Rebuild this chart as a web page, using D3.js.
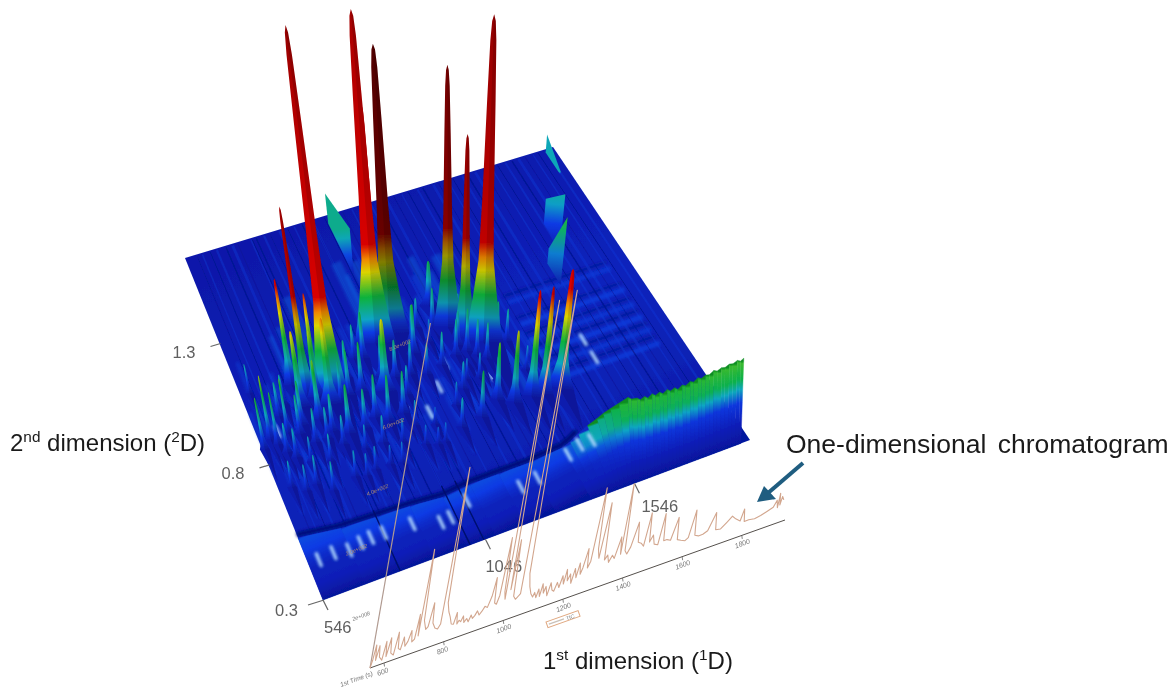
<!DOCTYPE html>
<html><head><meta charset="utf-8">
<style>html,body{margin:0;padding:0;background:#fff}svg{display:block}text{font-family:"Liberation Sans",Arial,sans-serif}</style>
<script src="https://cdn.jsdelivr.net/npm/d3@7/dist/d3.min.js"></script></head><body>
<svg id="c" width="1170" height="688"></svg>
<script>
// ---------- chart data (1st-dim time s, 2nd-dim time s, intensity) ----------
const peakT1=[828,1040,1054,1100,1287,1321,1370,755,720,790,1422,1461,1516,
 1141,980,1209,1266,1306,1329,1353,1411,1440,1318,1362,1247,1174,1105,
 646,584,554,601,682,883,928,852,1000,1207,782,722,816,
 590,630,710,793,828,862,912,949,1044,1080,668,
 832,887,932,967,1022,785,719,641,1265,1154,1287,1330,1375,1235,1100,1190,
 578,640,670,700,760,760,620,680,740,800,860,920,980,1040,1060,1010,1050,1100,1150,900,950,1190,1240,1330,1400,1350,1300,1260,1450,1500];
const peakT2=[.968,1.11,1.12,1.13,1.08,1.02,.98,1.0,1.06,1.01,.72,.715,.714,
 1.025,1.07,.946,.965,.967,.938,.913,.967,.953,.75,.72,.71,.70,.67,
 .89,.886,.86,.86,.87,.95,.95,.94,.92,1.05,.985,.966,.94,
 .70,.67,.64,.66,.65,.66,.66,.65,.685,.67,.68,
 .81,.81,.835,.805,.815,.84,.82,.79,1.187,1.07,1.0,1.1,1.05,.83,.74,.78,
 1.08,.96,1.0,.9,.9,.82,.82,.76,.74,.78,.74,.74,.72,.76,.88,.98,.96,.95,.93,1.02,1.08,1.12,1.1,1.12,1.1,.82,.85,.86,.82,.85];
const peakH=[372,335,235,290,263,204,328,190,107,98,107,108,120,
 50,47,34,37,43,37,37,40,33,58,73,47,30,20,
 55,65,52,53,40,47,50,40,73,23,67,77,87,
 27,27,30,27,23,24,20,22,20,18,30,
 50,40,44,47,43,38,35,30,45,38,35,26,30,28,18,24,
 30,35,30,45,60,32,30,26,28,30,25,28,24,26,30,42,38,35,32,38,35,30,40,32,30,24,26,22,25,24];
const peakW=[18,21,10,20,15,13,20,9,8,8,10,10,14,
 7,7,6,6,6,6,6,7,6,8,9,7,6,5,
 5,5,5,5,6,7,7,6,12,5,10,10,12,
 5,5,5,5,5,5,5,5,5,5,5,
 8,7,7,7,7,7,6,6,10,6,7,6,6,6,5,5,
 4,6,6,7,8,6,6,5,5,6,5,6,5,5,6,7,7,6,6,7,6,6,7,6,6,5,5,5,5,5];
const peakShade=[0,0,0,2.1,1.3,.8,.4,.5,0,0,0,.3,0,
 0,0,0,0,0,0,0,0,0,0,.3,.3,0,0,
 0,0,0,0,0,0,0,0,0,0,0,0,0,
 0,0,0,0,0,0,0,0,0,0,0,
 0,0,0,0,0,0,0,0,0,0,0,0,0,0,0,0,
 0,0,0,0,0,0,0,0,0,0,0,0,0,0,0,0,0,0,0,0,0,0,0,0,0,0,0,0,0,0];
// walls running along the 2nd dimension
const ridgeT1=[1078,1765,1700,1915];
const ridgeFrom=[1.78,1.39,1.2,1.81];
const ridgeTo=[1.44,1.24,1.1,1.65];
const ridgeHFrom=[30,25,15,18];
const ridgeHTo=[47,55,68,3];
const ridgeTone=[34,30,50,27];
// column-bleed ridge along the 1st dimension
const wallT1=[546,684,804,912,1018,1113,1210,1313,1429,1450,1472,1494,1515,1526,1538,1551,1564,1576,1588,1600,1612,1624,1636,1648,1660,1672,1684,1696,1708,1720,1732,1744,1756,1768,1780,1792,1804,1816,1828,1840,1852,1864,1876,1888,1900,1912,1920];
const wallT2=[.53,.51,.505,.5,.49,.5,.5,.5,.51,.505,.5,.49,.477,.465,.45,.43,.41,.41,.40,.40,.40,.40,.40,.40,.40,.40,.40,.40,.40,.40,.40,.40,.40,.40,.40,.40,.40,.40,.40,.40,.40,.40,.40,.40,.40,.40,.40];
const wallH=[0,0,0,0,0,0,0,0,0,5,12,20,28,35,42,51,60,57,59,56,58,55,58,55,57,54,57,54,56,53,56,54,57,55,58,56,58,57,60,58,60,59,61,60,62,60,62];
// surface streak lines
const darkStreakT1=[590,640,700,745,800,815,868,935,990,1030,1075,1100,1145,1222,1280,1340,1395,1450,1510,1565,1620,1680,1735,1790,1840,1890];
const lightStreakT1=[610,665,725,795,845,905,960,1030,1120,1180,1250,1310,1370,1430,1490,1545,1600,1650,1710,1765,1815,1870,1920];
const bandT2=[.75,.81,.87,.93,1.0,1.1];
// bright spots
const spotT1=[723,581,632,681,759,802,895,979,1013,1082,1253,1313,1434,1482,1523,1049,1168,1102,615,1668,1669,1220,1340,880];
const spotT2=[.44,.435,.44,.43,.445,.445,.44,.41,.415,.45,.43,.44,.48,.50,.50,.86,.87,.79,.91,.86,.78,.95,.85,.92];
// one-dimensional chromatogram
const chromT=[553,558,563,568,575,580,590,597,603,612,618,628,636,642,650,657,664,672,680,686,694,700,705,710,718,728,735,744,750,760,770,778,785,792,800,808,816,824,831,836,842,848,855,860,868,875,882,888,895,902,910,918,926,935,945,952,958,965,972,981,988,993,1001,1008,1015,1022,1030,1045,1058,1066,1074,1082,1090,1095,1102,1108,1114,1120,1126,1132,1140,1148,1155,1162,1170,1178,1186,1192,1198,1204,1212,1218,1226,1233,1240,1246,1252,1262,1268,1276,1289,1296,1303,1316,1324,1333,1340,1350,1358,1372,1378,1383,1392,1400,1410,1426,1434,1445,1455,1466,1474,1484,1492,1505,1516,1524,1535,1548,1565,1572,1585,1600,1610,1624,1632,1645,1660,1675,1696,1703,1720,1740,1755,1768,1785,1794,1800,1815,1835,1855,1875,1895,1905,1910,1913,1917,1922,1928];
const chromI=[0,8,22,6,20,8,4,22,6,24,8,5,27,10,8,20,10,14,24,12,14,38,16,102,30,20,22,45,24,18,16,20,176,40,30,24,16,15,26,14,17,15,20,13,16,12,18,14,16,20,15,18,22,20,30,48,22,20,28,85,30,22,320,30,79,22,18,22,324,40,26,18,14,18,12,20,12,24,14,20,10,22,14,12,20,14,25,16,30,18,24,14,28,18,32,20,26,44,24,30,102,40,30,84,26,30,22,28,24,44,26,96,28,24,30,53,32,30,26,58,28,34,24,22,52,24,24,22,43,20,18,16,18,44,18,16,16,18,34,16,15,20,24,20,16,27,14,14,13,14,16,18,24,16,30,18,26,22];
const chromTicks=[600,800,1000,1200,1400,1600,1800];
const plateTickAt=[546,1080,1570];
const plateTickLab=["546","1046","1546"];
const t2Ticks=[.3,.8,1.3];
const plateLabT1=[1110,975,837,700];
const plateLabT2=[1.05,.77,.57,.4];
const plateLab=["8.0e+002","6.0e+002","4.0e+002","2.0e+002"];

// ---------- scales & projection ----------
const svg=d3.select("#c"), defs=svg.append("defs");
const uS=d3.scaleLinear([546,1950],[0,1]);
const vS=d3.scaleLinear([.3,.8,1.3,1.83],[0,.395,.75,1]);
const A=[185,258],B=[553,147],C=[750,440],D=[323,600],V=[450,1350];
function base(t1,t2){const u=uS(t1),v=vS(t2);
 return [D[0]*(1-u)*(1-v)+C[0]*u*(1-v)+B[0]*u*v+A[0]*(1-u)*v,
         D[1]*(1-u)*(1-v)+C[1]*u*(1-v)+B[1]*u*v+A[1]*(1-u)*v];}
function proj(t1,t2,z){const b=base(t1,t2),l=(b[0]-V[0])/(V[1]-b[1]);return [b[0]+l*z,b[1]-z];}
const levels=[0,12,25,47,72,85,100,300,400];
const cmap=d3.scaleLinear(levels,["#0a1cae","#0b3ae4","#0fa6c4","#0cb23c","#dcd400","#f08800","#d80000","#b00000","#8a0000"]).clamp(true);
let gid=0;
function grad(p0,p1,stops){const id="g"+(gid++);
 const g=defs.append("linearGradient").attr("id",id).attr("gradientUnits","userSpaceOnUse")
  .attr("x1",p0[0]).attr("y1",p0[1]).attr("x2",p1[0]).attr("y2",p1[1]);
 stops.forEach(s=>g.append("stop").attr("offset",s[0]).attr("stop-color",s[1]));return "url(#"+id+")";}
function zStops(h,shade){const z=levels.filter(l=>l<h).concat([h]);
 return z.map(l=>{let c=d3.rgb(cmap(l));if(shade)c=c.darker(shade*Math.min(1,l/Math.max(90,h*.35)));return [l/h,c.formatHex()];});}

defs.append("filter").attr("id","soft").attr("x","-5%").attr("y","-5%").attr("width","110%").attr("height","110%")
 .append("feGaussianBlur").attr("stdDeviation",.7);
defs.append("filter").attr("id","soft2").append("feGaussianBlur").attr("stdDeviation",1.6);

const surf=svg.append("g").attr("filter","url(#soft)");
const L=d3.line();
// plate
const corners=[[546,.3],[1950,.3],[1950,1.83],[546,1.83]].map(d=>base(d[0],d[1]));
surf.append("path").attr("d",L(corners)+"Z")
 .attr("fill",grad(base(1200,1.83),base(1200,.3),[[0,"#0919aa"],[.5,"#0a22bc"],[.8,"#0a20b4"],[1,"#06189e"]]));
// back-right bands along 1st dim
const bands=surf.append("g").attr("filter","url(#soft2)");
bandT2.forEach((t,i)=>{
 bands.append("path").attr("d",L([base(1510,t),base(1880,t)])).attr("stroke",i%2?"#0c3ad8":"#1044e4").attr("stroke-width",5).attr("opacity",.7).attr("fill","none");
 bands.append("path").attr("d",L([base(1510,t+.03),base(1880,t+.03)])).attr("stroke","#071690").attr("stroke-width",2.2).attr("opacity",.8).attr("fill","none");
});
// streaks
const st=surf.append("g").attr("fill","none");
lightStreakT1.forEach((t,i)=>st.append("path").attr("d",L([base(t,.52),base(t,1.82)])).attr("stroke","#1240dc").attr("stroke-width",1.4+(i%3)*.7).attr("opacity",.38));
darkStreakT1.forEach((t,i)=>st.append("path").attr("d",L([base(t,.5),base(t,1.82)])).attr("stroke","#04128a").attr("stroke-width",.6+(i%3)*.4).attr("opacity",.7));
// peak wakes along the 2nd dim
peakT1.forEach((t,i)=>{
 st.append("path").attr("d",L([base(t,peakT2[i]-.1),base(t,Math.min(1.8,peakT2[i]+.1+peakH[i]/1000))]))
  .attr("stroke",peakH[i]>60?"#0f62e0":"#0f4fe6").attr("stroke-width",Math.max(3,peakW[i]*.5)).attr("opacity",.45).attr("filter","url(#soft2)");
});
// wall along 1st dim
const wall=surf.append("g");
const tone=d3.scaleLinear([0,28,60],[14,34,52]);
// dark shadow behind crest
wall.append("path").attr("d",L(wallT1.slice(0,11).map((t,i)=>proj(t,wallT2[i]+.012,wallH[i]))))
 .attr("fill","none").attr("stroke","#02107a").attr("stroke-width",5).attr("filter","url(#soft2)");
for(let i=0;i<wallT1.length-1;i++){
 const a=proj(wallT1[i],wallT2[i],wallH[i]),b=proj(wallT1[i+1],wallT2[i+1],wallH[i+1]);
 const c=base(wallT1[i+1],.3),d=base(wallT1[i],.3);
 const zt=tone((wallH[i]+wallH[i+1])/2);
 const f=grad(d,a,[[0,"#06169a"],[.25,"#0a1eb8"],[.5,cmap(zt*.2)],[.66,cmap(zt*.5)],[.78,cmap(zt*.85)],[.97,cmap(zt)],[1,zt>30?"#0a8c20":"#0b2cc4"]]);
 wall.append("path").attr("d",L([a,b,c,d])+"Z").attr("fill",f).attr("stroke",f).attr("stroke-width",.4);
}
// wall divisions on the band
[800,1030,1075].forEach(t=>wall.append("path").attr("d",L([base(t,.3),base(t,.53)])).attr("stroke","#02106e").attr("stroke-width",1.4).attr("fill","none"));
// bright spots
surf.append("g").attr("filter","url(#soft2)").selectAll("path").data(spotT1).join("path")
 .attr("d",(d,i)=>L([base(d,spotT2[i]+.022),base(d,spotT2[i]-.022)]))
 .attr("stroke","#b4dcff").attr("stroke-width",3.4).attr("stroke-linecap","round").attr("opacity",.95);
// ridges
ridgeT1.forEach((t,i)=>{
 const a=proj(t,ridgeFrom[i],0),b=proj(t,ridgeTo[i],0),a2=proj(t,ridgeFrom[i],ridgeHFrom[i]),b2=proj(t,ridgeTo[i],ridgeHTo[i]);
 const k=ridgeTone[i];
 surf.append("path").attr("d",L([a,a2,b2,b])+"Z")
  .attr("fill",grad([b[0],b[1]],[b2[0],b2[1]],[[0,cmap(0)],[.45,cmap(k*.4)],[.8,cmap(k*.8)],[1,cmap(k)]]));
});
// peaks, back to front
const pF=[0,.06,.14,.25,.44,.74,.92,.98,1], pW=[1,.8,.6,.38,.29,.21,.15,.09,0];
const order=d3.range(peakT1.length).sort((a,b)=>base(peakT1[a],peakT2[a])[1]-base(peakT1[b],peakT2[b])[1]);
const pk=surf.append("g");
order.forEach(i=>{
 const t=peakT1[i],q=peakT2[i],h=peakH[i],w=peakW[i];
 const c=pF.map(f=>proj(t,q,f*h));
 const left=c.map((p,k)=>[p[0]-w*pW[k],p[1]]),right=c.map((p,k)=>[p[0]+w*pW[k],p[1]]).reverse();
 const tail=proj(t,Math.max(.34,q-(.09+h/1500)),0);
 const g=grad(c[0],c[c.length-1],zStops(h,peakShade[i]));
 pk.append("path").attr("d",L([tail].concat(left,right))+"Z").attr("fill",g);
 pk.append("path").attr("d",L([tail].concat(c,right))+"Z").attr("fill","#000018").attr("opacity",.13);
});

// ---------- plate axis ticks and labels ----------
const ink="#5f5f5f";
const ax=svg.append("g").attr("fill",ink).attr("font-size",16.5);
const tickDx=[1,0,7], tickDy=[33,29,29];
t2Ticks.forEach((t,i)=>{const b=base(546,t);
 ax.append("line").attr("x1",b[0]+1).attr("y1",b[1]).attr("x2",b[0]-(i?9:15)).attr("y2",b[1]+(i?3:5)).attr("stroke","#666").attr("stroke-width",1.2);
 ax.append("text").attr("x",b[0]-(i?24:25)).attr("y",b[1]+(i?14:16)).attr("text-anchor","end").text(t.toFixed(1));
});
plateTickAt.forEach((t,i)=>{const b=base(t,.3);
 ax.append("line").attr("x1",b[0]).attr("y1",b[1]).attr("x2",b[0]+5).attr("y2",b[1]+10).attr("stroke","#666").attr("stroke-width",1.2);
 ax.append("text").attr("x",b[0]+tickDx[i]).attr("y",b[1]+tickDy[i]+(i==1?4:0)).text(plateTickLab[i]);
});
const lab=svg.append("g").attr("font-size",5.5).attr("fill","#b08f70").attr("font-style","italic");
plateLab.forEach((s,i)=>{const p=base(plateLabT1[i],plateLabT2[i]);
 lab.append("text").attr("transform",`translate(${p[0]-12},${p[1]}) rotate(-22)`).text(s);});

// ---------- chromatogram ----------
const xT=d3.scaleLinear([553,1945],[370,785]), yT=d3.scaleLinear([553,1945],[668,520]), iS=d3.scaleLinear([0,400],[0,400]);
const cp=(t,I)=>[xT(t)+.175*iS(I),yT(t)-iS(I)];
const ch=svg.append("g");
ch.append("path").attr("d",L([[xT(553),yT(553)],[xT(1945),yT(1945)]])).attr("stroke","#55504c").attr("stroke-width",1).attr("fill","none");
ch.append("path").attr("d",L([cp(553,0),cp(553,345)])).attr("stroke","#b09a90").attr("stroke-width",1.2).attr("fill","none");
ch.append("path").attr("d",L(chromT.map((t,i)=>cp(t,chromI[i])))).attr("fill","none").attr("stroke","#d2a68e").attr("stroke-width",1.1).attr("stroke-linejoin","round");
chromTicks.forEach(t=>{
 ch.append("line").attr("x1",xT(t)).attr("y1",yT(t)).attr("x2",xT(t)+.5).attr("y2",yT(t)+3.5).attr("stroke","#666").attr("stroke-width",.8);
 ch.append("text").attr("transform",`translate(${xT(t)-6},${yT(t)+13}) rotate(-20)`).attr("font-size",7).attr("font-style","italic").attr("fill","#777").text(t);
});
ch.append("text").attr("transform","translate(341,687) rotate(-20)").attr("font-size",6.5).attr("font-style","italic").attr("fill","#777").text("1st Time (s)");
ch.append("text").attr("transform","translate(353,621) rotate(-20)").attr("font-size",5.5).attr("font-style","italic").attr("fill","#777").text("2e+008");
const tic=ch.append("g").attr("transform","translate(546,622) rotate(-19.5)");
tic.append("rect").attr("width",34).attr("height",6).attr("fill","#fff").attr("stroke","#e0a880").attr("stroke-width",1);
tic.append("line").attr("x1",2).attr("y1",3).attr("x2",18).attr("y2",3).attr("stroke","#c8c0b8").attr("stroke-width",1.2);
tic.append("text").attr("x",20).attr("y",5.5).attr("font-size",5.5).attr("fill","#777").text("TIC");

// ---------- big labels ----------
function supLabel(x,y,size,parts){const t=svg.append("text").attr("x",x).attr("y",y).attr("font-size",size).attr("fill","#1a1a1a");
 parts.forEach(p=>{const s=t.append("tspan").text(p[0]);if(p[1]){s.attr("font-size",size*.64).attr("dy",-size*.36);}else if(p[2]){s.attr("dy",size*.36);}});
 return t;}
supLabel(10,451,24,[["2"],["nd",1],[" dimension (",0,1],["2",1],["D)",0,1]]);
supLabel(543,669,24,[["1"],["st",1],[" dimension (",0,1],["1",1],["D)",0,1]]);
svg.append("text").attr("x",786).attr("y",453).attr("font-size",26.5).attr("fill","#1a1a1a").attr("word-spacing",4).text("One-dimensional chromatogram");
// arrow
const ar=svg.append("g").attr("fill","#1f5d80");
ar.append("line").attr("x1",803).attr("y1",463).attr("x2",768).attr("y2",493).attr("stroke","#1f5d80").attr("stroke-width",4);
ar.append("path").attr("d","M757,502L764,486L776,499Z");
</script></body></html>
